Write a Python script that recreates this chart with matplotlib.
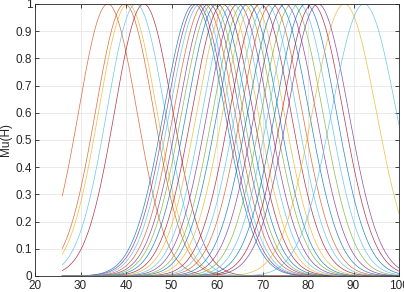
import numpy as np
import matplotlib
matplotlib.use('Agg')
import matplotlib.pyplot as plt

# Gaussian membership functions: centre and width
centers = [36.0, 39.7, 40.4, 42.2, 43.9,
           55.0, 55.6, 56.3, 57.2, 58.2, 59.0, 60.0, 61.2, 62.3, 63.5,
           64.6, 65.8, 66.8, 68.0, 69.5, 70.8, 72.0, 73.5, 75.0, 76.5,
           78.0, 79.5, 81.0, 82.2,
           88.0, 92.3]
sigmas = [6.4, 6.4, 6.4, 6.4, 6.4,
          6.7, 6.7, 6.7, 6.7, 6.7, 6.7, 6.7, 6.7, 6.7, 6.7,
          6.7, 6.7, 6.7, 6.7, 6.7, 6.7, 6.7, 6.7, 6.7, 6.7,
          6.7, 6.7, 6.7, 6.7,
          7.0, 7.1]
colors = ['#D95319', '#D95319', '#EDB120', '#4DBEEE', '#A2142F',
          '#0072BD', '#7E2F8E', '#4DBEEE', '#D95319', '#7E2F8E', '#77AC30', '#0072BD', '#A2142F', '#EDB120', '#4DBEEE',
          '#7E2F8E', '#77AC30', '#0072BD', '#EDB120', '#A2142F', '#4DBEEE', '#D95319', '#0072BD', '#7E2F8E', '#77AC30',
          '#4DBEEE', '#0072BD', '#A2142F', '#7E2F8E',
          '#EDB120', '#4DBEEE']
h_min, h_max = 26.0, 100.0

xticks = [20, 30, 40, 50, 60, 70, 80, 90, 100]
yticks = [0, 0.1, 0.2, 0.3, 0.4, 0.5, 0.6, 0.7, 0.8, 0.9, 1]
ytick_labels = ['0', '0.1', '0.2', '0.3', '0.4', '0.5', '0.6', '0.7', '0.8', '0.9', '1']

plt.rcParams['font.family'] = ['Liberation Sans', 'DejaVu Sans']

fig = plt.figure(figsize=(4.04, 2.92), dpi=100)
ax = fig.add_axes([35 / 404, 16 / 292, 364 / 404, 272 / 292])

h = np.linspace(h_min, h_max, 400)
for c, s, col in zip(centers, sigmas, colors):
    ax.plot(h, np.exp(-(h - c) ** 2 / (2 * s ** 2)), color=col, linewidth=0.5, alpha=0.85)

ax.set_xlim(20, 100)
ax.set_ylim(0, 1)
ax.set_xticks(xticks)
ax.set_yticks(yticks)
ax.set_yticklabels(ytick_labels)
ax.grid(True, color='#e6e6e6', linewidth=0.6)
ax.set_axisbelow(True)
ax.tick_params(direction='in', length=3, width=0.6, labelsize=8.5,
               colors='#262626', top=True, right=True, pad=2)
ax.tick_params(axis='x', pad=3)
for sp in ax.spines.values():
    sp.set_linewidth(0.6)
    sp.set_color('#262626')
ax.set_ylabel('Mu(H)', fontsize=8.5, color='#262626', labelpad=3)

fig.savefig('out.png', dpi=100)
